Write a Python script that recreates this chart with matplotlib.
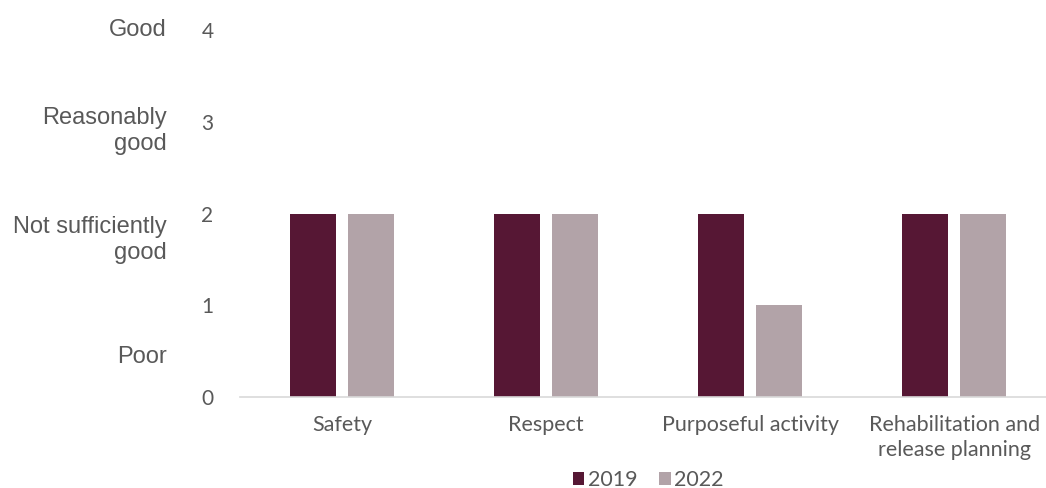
import matplotlib
matplotlib.use('Agg')
import matplotlib.pyplot as plt
import matplotlib.transforms as mtransforms
import numpy as np

categories = ['Safety', 'Respect', 'Purposeful activity', 'Rehabilitation and\nrelease planning']
scores_2019 = [2, 2, 2, 2]
scores_2022 = [2, 2, 1, 2]
y_ticks = [0, 1, 2, 3, 4]
grade_labels = ['Good', 'Reasonably\ngood', 'Not sufficiently\ngood', 'Poor']
grade_pos = [4.0, 2.9, 1.71, 0.44]

col_2019 = '#561734'
col_2022 = '#b2a3a8'
txt_col = '#595959'

fig = plt.figure(figsize=(10.46, 4.88), dpi=100)
ax = fig.add_axes([240 / 1046, 1 - 397 / 488, 1 - 240 / 1046, (397 - 30) / 488])

x = np.arange(len(categories))
w = 0.225
off = 0.143
ax.bar(x - off, scores_2019, w, color=col_2019, label='2019')
ax.bar(x + off, scores_2022, w, color=col_2022, label='2022')

ax.set_xlim(-0.5, 3.45)
ax.set_ylim(0, 4)
ax.set_yticks(y_ticks)
ax.set_yticklabels([str(v) for v in y_ticks], fontfamily='Lato', fontsize=15, color=txt_col)
ax.set_xticks(x)
ax.set_xticklabels(categories, fontfamily='Lato', fontsize=15.5, color=txt_col, linespacing=1.3)
ax.tick_params(axis='y', length=0, pad=19)
ax.tick_params(axis='x', length=0, pad=13)

for s in ['top', 'right', 'left']:
    ax.spines[s].set_visible(False)
ax.spines['bottom'].set_color('#d9d9d9')
ax.spines['bottom'].set_linewidth(1.2)

trans = mtransforms.blended_transform_factory(fig.transFigure, ax.transData)
for lab, yp in zip(grade_labels, grade_pos):
    ax.text(167 / 1046, yp, lab, transform=trans, ha='right', va='center',
            fontfamily='Liberation Sans', fontsize=17, color=txt_col, linespacing=1.2)

leg = fig.legend(loc='center', bbox_to_anchor=(648 / 1046, 1 - 480 / 488), ncol=2,
                 frameon=False, handlelength=0.55, handleheight=0.55, handletextpad=0.15,
                 columnspacing=1.0, prop={'family': 'Lato', 'size': 15.5}, borderpad=0)
for t in leg.get_texts():
    t.set_color(txt_col)

fig.savefig('out.png', dpi=100)
